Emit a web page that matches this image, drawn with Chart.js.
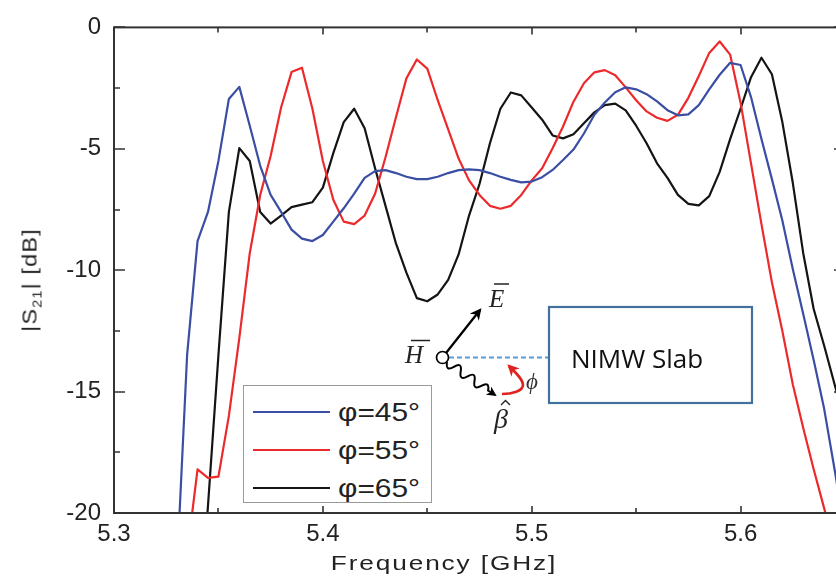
<!DOCTYPE html>
<html>
<head>
<meta charset="utf-8">
<script src="https://cdn.jsdelivr.net/npm/chart.js@4.4.1/dist/chart.umd.min.js"></script>
<style>
  html, body { margin: 0; padding: 0; background: #fff; overflow: hidden; }
  #wrap { position: relative; width: 836px; height: 582px; overflow: hidden; background: #fff; }
  #c { position: absolute; left: 0; top: 0; }
  .axtitle { position: absolute; font-family: "Liberation Sans", Arial, sans-serif; color: #222; white-space: nowrap; line-height: 21px; font-size: 21px; }
  #xtitle { left: 444px; top: 552px; letter-spacing: 1.5px; transform: translateX(-50%) scaleX(1.25); transform-origin: center; }
  #ytitle { left: 29px; top: 280px; letter-spacing: 1px; transform: translate(-50%, -50%) rotate(-90deg) scaleX(1.12); transform-origin: center; }
  #ytitle sub { font-size: 13px; vertical-align: -5px; line-height: 0; }
  #legend { position: absolute; left: 243px; top: 385px; width: 189px; height: 118px; box-sizing: border-box; border: 1.5px solid #9a9a9a; background: #fff; }
  .lrow { position: absolute; left: 0; height: 30px; width: 189px; }
  .lline { position: absolute; left: 9px; width: 77px; top: 14px; height: 0; border-top: 2px solid #000; }
  .ltext { position: absolute; left: 94px; top: 0; font-family: "Liberation Sans", Arial, sans-serif; font-size: 26px; line-height: 30px; color: #222; transform: scaleX(1.15); transform-origin: left center; white-space: nowrap; }
  svg { position: absolute; left: 0; top: 0; }
</style>
</head>
<body>
<div id="wrap">
  <canvas id="c" width="846" height="582"></canvas>
  <div id="xtitle" class="axtitle">Frequency [GHz]</div>
  <div id="ytitle" class="axtitle">|S<sub>21</sub>| [dB]</div>
  <div id="legend"></div>
  <svg width="836" height="582" viewBox="0 0 836 582">
    <defs>
      <marker id="ahb" viewBox="0 0 10 10" refX="8" refY="5" markerWidth="5" markerHeight="5" orient="auto-start-reverse" markerUnits="strokeWidth">
        <path d="M0,0 L10,5 L0,10 L3,5 z" fill="#000"/>
      </marker>
      <marker id="ahr" viewBox="0 0 10 10" refX="8" refY="5" markerWidth="4.5" markerHeight="4.5" orient="auto-start-reverse" markerUnits="strokeWidth">
        <path d="M0,0 L10,5 L0,10 L3,5 z" fill="#e0231f"/>
      </marker>
    </defs>
    <line x1="449" y1="357.5" x2="549" y2="357.5" stroke="#5b9bd5" stroke-width="1.8" stroke-dasharray="5,3"/>
    <circle cx="442.5" cy="357.5" r="6" fill="none" stroke="#000" stroke-width="1.7"/>
    <line x1="446" y1="353" x2="480" y2="310" stroke="#000" stroke-width="2.3" marker-end="url(#ahb)"/>
    <path d="M447,362 Q445.4,371.8 453.9,366.8 T460.7,371.5 T467.6,376.3 T474.5,381 T481.3,385.8 T488.1,390.5 L495,395" fill="none" stroke="#000" stroke-width="2" marker-end="url(#ahb)"/>
    <path d="M502,394 C512,394 523,391 523,385 C523,379 515,372 509,366" fill="none" stroke="#e0231f" stroke-width="2.6" marker-end="url(#ahr)"/>
    <rect x="549" y="307" width="203" height="96" fill="#fff" stroke="#41719c" stroke-width="2.2"/>
    <text x="571" y="368" font-family="Open Sans, Liberation Sans, sans-serif" font-size="26" fill="#111">NIMW Slab</text>
    <text x="489" y="307" font-family="Liberation Serif, serif" font-style="italic" font-size="25" fill="#222">E</text>
    <line x1="494" y1="284" x2="509" y2="284" stroke="#222" stroke-width="1.5"/>
    <text x="405" y="363" font-family="Liberation Serif, serif" font-style="italic" font-size="25" fill="#222">H</text>
    <line x1="411" y1="340.5" x2="430" y2="340.5" stroke="#222" stroke-width="1.5"/>
    <text x="494" y="428" font-family="Liberation Serif, serif" font-style="italic" font-size="28" fill="#222">β</text>
    <path d="M501,405 L505.5,400.5 L510,405" fill="none" stroke="#222" stroke-width="1.4"/>
    <text x="526" y="389" font-family="Liberation Serif, DejaVu Serif, serif" font-style="italic" font-size="23" fill="#333">ϕ</text>
  </svg>
</div>
<script>
// ---- data ----
const freqGHz = [
  5.330, 5.335, 5.340, 5.345, 5.350, 5.355, 5.360, 5.365, 5.370, 5.375,
  5.380, 5.385, 5.390, 5.395, 5.400, 5.405, 5.410, 5.415, 5.420, 5.425,
  5.430, 5.435, 5.440, 5.445, 5.450, 5.455, 5.460, 5.465, 5.470, 5.475,
  5.480, 5.485, 5.490, 5.495, 5.500, 5.505, 5.510, 5.515, 5.520, 5.525,
  5.530, 5.535, 5.540, 5.545, 5.550, 5.555, 5.560, 5.565, 5.570, 5.575,
  5.580, 5.585, 5.590, 5.595, 5.600, 5.605, 5.610, 5.615, 5.620, 5.625,
  5.630, 5.635, 5.640, 5.645, 5.650
];
const s21Phi45 = [
  -22.5, -13.5, -8.8, -7.6, -5.5, -2.95, -2.45, -4.05, -5.7, -6.9,
  -7.6, -8.33, -8.7, -8.8, -8.55, -8.0, -7.45, -6.85, -6.2, -5.92,
  -5.88, -6.0, -6.15, -6.25, -6.25, -6.15, -6.0, -5.88, -5.85, -5.88,
  -6.0, -6.15, -6.28, -6.38, -6.35, -6.17, -5.87, -5.46, -5.03, -4.37,
  -3.6, -3.09, -2.67, -2.47, -2.55, -2.75, -3.05, -3.41, -3.62, -3.58,
  -3.2, -2.55, -1.95, -1.46, -1.55, -2.87, -4.6, -6.25, -7.95, -9.95,
  -11.8, -13.7, -15.7, -18.2, -20.8
];
const s21Phi55 = [
  -23.0, -21.7, -18.2, -18.55, -18.5, -16.0, -12.8, -9.3, -6.9, -5.3,
  -3.3, -1.84, -1.66, -3.35, -5.5, -7.1, -8.0, -8.1, -7.75, -6.85,
  -5.35, -3.7, -2.1, -1.32, -1.7, -3.0, -4.2, -5.4, -6.3, -6.9,
  -7.35, -7.47, -7.35, -6.9, -6.3, -5.8, -4.98, -4.08, -3.06, -2.3,
  -1.85, -1.76, -1.97, -2.47, -3.0, -3.46, -3.72, -3.85, -3.6, -2.9,
  -2.0, -1.05, -0.58, -1.12, -3.1, -5.6, -8.1, -10.5, -12.5, -14.7,
  -16.5, -18.2, -19.8, -21.4, -23.0
];
const s21Phi65 = [
  -33.0, -31.0, -25.6, -19.7, -13.5, -7.6, -4.97, -5.5, -7.6, -8.08,
  -7.75, -7.4, -7.3, -7.2, -6.6, -5.18, -3.9, -3.35, -4.15, -5.8,
  -7.35, -8.9, -10.1, -11.15, -11.28, -11.0, -10.4, -9.35, -7.75, -6.45,
  -4.77, -3.35, -2.68, -2.8, -3.3, -3.8, -4.45, -4.57, -4.4, -3.95,
  -3.5, -3.2, -3.14, -3.42, -4.05, -4.77, -5.6, -6.2, -6.9, -7.27,
  -7.33, -6.95, -5.95, -4.6, -3.35, -2.05, -1.25, -1.93, -3.9, -6.4,
  -9.3, -11.6, -13.1, -14.7, -16.3
];
const seriesLabels = ['φ=45°', 'φ=55°', 'φ=65°'];
const seriesColors = ['#3a4ea3', '#ec2a2c', '#141414'];

const xMajorTicks = [5.3, 5.4, 5.5, 5.6];
const xMinorTicks = [5.35, 5.45, 5.55];
const yMajorTicks = [0, -5, -10, -15, -20];
const yMinorTicks = [-2.5, -7.5, -12.5, -17.5];
const xRange = [5.3, 5.65];
const yRange = [-20, 0];

// ---- chart ----
const seriesValues = [s21Phi45, s21Phi55, s21Phi65];
const datasets = seriesValues.map((vals, k) => ({
  label: seriesLabels[k],
  data: freqGHz.map((f, i) => ({ x: f, y: vals[i] })),
  borderColor: seriesColors[k],
  borderWidth: 2.2,
  pointRadius: 0,
  tension: 0,
  fill: false,
  borderJoinStyle: 'round'
}));

const framePlugin = {
  id: 'frame',
  afterDatasetsDraw(chart) {
    const { ctx, chartArea: a, scales: { x, y } } = chart;
    ctx.save();
    ctx.strokeStyle = '#333';
    ctx.lineWidth = 2;
    ctx.strokeRect(a.left, a.top, a.right - a.left, a.bottom - a.top);
    ctx.beginPath();
    const xt = (vals, len) => vals.forEach(v => {
      const p = Math.round(x.getPixelForValue(v));
      ctx.moveTo(p, a.bottom); ctx.lineTo(p, a.bottom - len);
      ctx.moveTo(p, a.top); ctx.lineTo(p, a.top + len);
    });
    const yt = (vals, len) => vals.forEach(v => {
      const p = Math.round(y.getPixelForValue(v));
      ctx.moveTo(a.left, p); ctx.lineTo(a.left + len, p);
      ctx.moveTo(a.right, p); ctx.lineTo(a.right - len, p);
    });
    xt(xMajorTicks, 7); xt(xMinorTicks, 5);
    yt(yMajorTicks, 11); yt(yMinorTicks, 6);
    ctx.lineWidth = 1.6;
    ctx.stroke();
    ctx.restore();
  }
};

const tickFont = { family: 'Liberation Sans, Arial, sans-serif', size: 24 };

new Chart(document.getElementById('c'), {
  type: 'line',
  data: { datasets },
  options: {
    responsive: false,
    animation: false,
    devicePixelRatio: 1,
    layout: { padding: { top: 19, right: 1, left: 0, bottom: 0 } },
    plugins: { legend: { display: false }, tooltip: { enabled: false } },
    scales: {
      x: {
        type: 'linear',
        min: xRange[0], max: xRange[1],
        afterBuildTicks: s => { s.ticks = xMajorTicks.map(v => ({ value: v })); },
        afterFit: s => { s.height = 69; },
        grid: { display: false, drawTicks: false },
        border: { display: false },
        ticks: { font: tickFont, color: '#222', padding: 7, maxRotation: 0, autoSkip: false,
                 callback: v => Number(v).toFixed(1) }
      },
      y: {
        type: 'linear',
        min: yRange[0], max: yRange[1],
        afterBuildTicks: s => { s.ticks = yMajorTicks.map(v => ({ value: v })); },
        afterFit: s => { s.width = 114; },
        grid: { display: false, drawTicks: false },
        border: { display: false },
        ticks: { font: tickFont, color: '#222', padding: 13, autoSkip: false,
                 callback: v => String(v) }
      }
    }
  },
  plugins: [framePlugin]
});

// ---- legend (HTML) built from series arrays ----
const legend = document.getElementById('legend');
const rowTops = [11, 49, 87];
seriesLabels.forEach((lab, k) => {
  const row = document.createElement('div');
  row.className = 'lrow';
  row.style.top = rowTops[k] + 'px';
  const ln = document.createElement('div');
  ln.className = 'lline';
  ln.style.borderTopColor = seriesColors[k];
  const tx = document.createElement('div');
  tx.className = 'ltext';
  tx.textContent = lab;
  row.appendChild(ln); row.appendChild(tx);
  legend.appendChild(row);
});
</script>
</body>
</html>
